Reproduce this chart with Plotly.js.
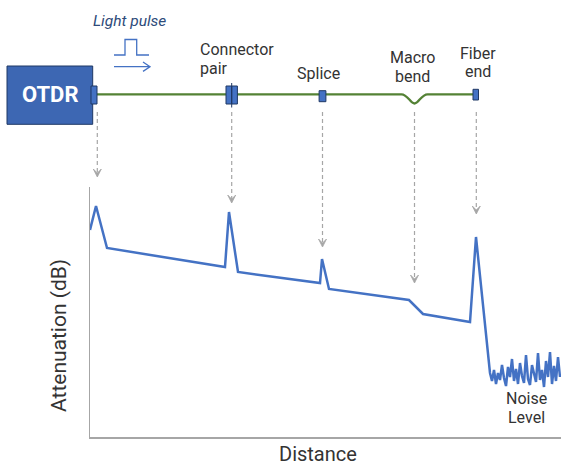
<!DOCTYPE html>
<html><head><meta charset="utf-8">
<script src="https://cdn.plot.ly/plotly-3.0.1.min.js"></script>
<style>html,body{margin:0;padding:0;background:#fff}</style>
</head><body><div id="chart" style="width:561px;height:466px"></div>
<script>
// ---- Data (arbitrary distance units / arbitrary attenuation units) ----
const traceDistance    = [0, 6, 17, 135, 139, 148, 230, 232, 239, 319, 333, 380, 386, 400];
const traceAttenuation = [207, 231, 189, 170, 225, 165, 154, 178, 148, 137, 123, 115, 200, 64];
const noiseDistance    = [402, 404, 406, 408, 410, 412, 414, 416, 418, 420, 422, 424, 426, 428, 430, 432, 434, 436,
                          438, 440, 442, 444, 446, 448, 450, 452, 454, 456, 458, 460, 462, 464, 466, 468, 470];
const noiseAttenuation = [56, 67, 53, 64, 57, 72, 59, 51, 70, 60, 78, 56, 68, 53, 74, 61, 54, 82,
                          58, 52, 72, 63, 55, 84, 57, 67, 50, 76, 60, 85, 53, 71, 56, 80, 60];
const eventLabels      = ["OTDR port", "Connector pair", "Splice", "Macro bend", "Fiber end"];
const eventDistance    = [7.3, 141.7, 232.5, 324.5, 386.3];
const arrowTipAtten    = [260, 234, 190, 154, 223];

const XR = [0, 471], YR = [0, 250];
// figure-pixel helpers for the schematic (layout positions)
const fx = p => (p - 90) / 471;
const fy = p => (437 - p) / 250;
const dx = d => (d - XR[0]) / (XR[1] - XR[0]);
const dy = a => (a - YR[0]) / (YR[1] - YR[0]);
const pxX = d => 90 + dx(d) * 471;   // distance -> figure pixel x
const pxY = a => 437 - dy(a) * 250;  // attenuation -> figure pixel y

const FONT = "Roboto, 'Open Sans', sans-serif";
const BLUE = '#4472C4', DARK = '#1F3864', GRAY = '#a6a6a6', TXT = '#333333';

const shapes = [];
const rect = (x0, x1, y0, y1, fill) => shapes.push({type: 'rect', xref: 'paper', yref: 'paper',
  x0: fx(x0), x1: fx(x1), y0: fy(y1), y1: fy(y0), fillcolor: fill, line: {color: DARK, width: 1}, layer: 'above'});

// fiber with macro bend
const fibY = 94.3, bendX = pxX(eventDistance[3]), bendBot = 103.5;
const P = (x, y) => fx(x) + ',' + fy(y);
shapes.push({type: 'path', xref: 'paper', yref: 'paper', layer: 'above',
  path: 'M' + P(95, fibY) + ' L' + P(bendX - 13, fibY) + ' C' + P(bendX - 7, fibY) + ' ' + P(bendX - 4, bendBot) + ' ' + P(bendX, bendBot) +
        ' C' + P(bendX + 4, bendBot) + ' ' + P(bendX + 7, fibY) + ' ' + P(bendX + 13, fibY) + ' L' + P(pxX(eventDistance[4]) - 2, fibY),
  line: {color: '#548235', width: 2.3}});

// OTDR box and port
rect(7, 92.7, 66, 124.3, '#3D67B3');
rect(91, 97, 86, 104, BLUE);
// connector pair
const cx = pxX(eventDistance[1]);
rect(cx - 5.7, cx, 86, 104, BLUE);
rect(cx, cx + 5.7, 86, 104, BLUE);
shapes.push({type: 'line', xref: 'paper', yref: 'paper', x0: fx(cx), x1: fx(cx), y0: fy(83), y1: fy(107.5), line: {color: DARK, width: 1}, layer: 'above'});
// splice
const sx = pxX(eventDistance[2]);
rect(sx - 3.4, sx + 3.4, 90.7, 101.7, BLUE);
// fiber end
const ex = pxX(eventDistance[4]);
rect(ex - 3.3, ex + 2.2, 89.3, 100, BLUE);

// dashed arrows from components to trace features
eventDistance.forEach((d, i) => {
  const x = pxX(d), tip = pxY(arrowTipAtten[i]);
  shapes.push({type: 'line', xref: 'paper', yref: 'paper', x0: fx(x), x1: fx(x), y0: fy(112), y1: fy(tip - 4),
    line: {color: GRAY, width: 1.2, dash: '4px,3px'}});
  shapes.push({type: 'path', xref: 'paper', yref: 'paper',
    path: 'M' + P(x, tip) + ' L' + P(x - 4, tip - 8) + ' L' + P(x, tip - 4) + ' L' + P(x + 4, tip - 8) + ' Z',
    fillcolor: GRAY, line: {color: GRAY, width: 0.8}});
});

// light pulse symbol
shapes.push({type: 'path', xref: 'paper', yref: 'paper',
  path: 'M' + P(114, 55) + ' L' + P(125, 55) + ' L' + P(125, 39.5) + ' L' + P(136.7, 39.5) + ' L' + P(136.7, 55) + ' L' + P(149, 55),
  line: {color: BLUE, width: 1.3}});
shapes.push({type: 'path', xref: 'paper', yref: 'paper',
  path: 'M' + P(114, 66.7) + ' L' + P(150, 66.7) + ' M' + P(143, 62) + ' L' + P(150, 66.7) + ' L' + P(143, 71.4),
  line: {color: BLUE, width: 1.3}});

const ann = (text, x, y, o) => Object.assign({text: text, xref: 'paper', yref: 'paper', x: fx(x), y: fy(y),
  showarrow: false, xanchor: 'center', yanchor: 'middle', font: {family: FONT, size: 16, color: TXT}}, o || {});

const annotations = [
  ann('<b>OTDR</b>', 49.5, 95, {font: {family: FONT, size: 22, color: '#ffffff'}}),
  ann('<i>Light pulse</i>', 129.5, 21, {font: {family: FONT, size: 15.5, color: '#2E4B7A'}}),
  ann('Connector', 198, 49, {xanchor: 'left'}),
  ann('pair', 198, 68, {xanchor: 'left'}),
  ann('Splice', 318.5, 73),
  ann('Macro', 412.8, 57),
  ann('bend', 412.8, 76),
  ann('Fiber', 477.5, 53),
  ann('end', 477.5, 71.5),
  ann('Noise', 526.7, 398),
  ann('Level', 526.7, 417),
  ann('Distance', 318, 454, {font: {family: FONT, size: 20, color: TXT}, borderpad: 0}),
  ann('Attenuation (dB)', 59, 336, {textangle: -90, font: {family: FONT, size: 21, color: TXT}})
];

const data = [{
  x: traceDistance.concat(noiseDistance),
  y: traceAttenuation.concat(noiseAttenuation),
  type: 'scatter', mode: 'lines', cliponaxis: false,
  line: {color: BLUE, width: 2.5}, hoverinfo: 'skip'
}];

const axis = {showline: true, linecolor: GRAY, linewidth: 1.5, showgrid: false, zeroline: false,
  showticklabels: false, ticks: '', fixedrange: true};

const layout = {
  width: 561, height: 466,
  margin: {l: 90, r: 0, t: 187, b: 29, pad: 0},
  paper_bgcolor: '#ffffff', plot_bgcolor: '#ffffff',
  showlegend: false,
  xaxis: Object.assign({range: XR}, axis),
  yaxis: Object.assign({range: YR}, axis),
  shapes: shapes,
  annotations: annotations
};

Plotly.newPlot('chart', data, layout, {displayModeBar: false, staticPlot: true});
</script>
</body></html>
